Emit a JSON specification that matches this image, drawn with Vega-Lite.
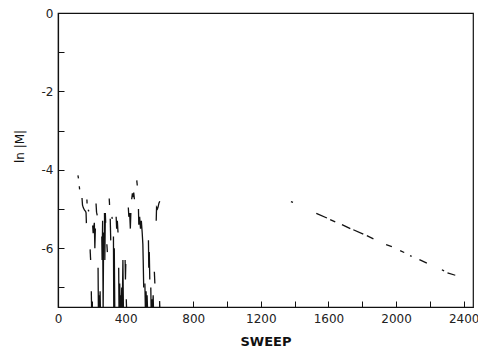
{
  "$schema": "https://vega.github.io/schema/vega-lite/v6.json",
  "width": 415,
  "height": 294,
  "autosize": "none",
  "padding": {"left": 58, "top": 13, "right": 5, "bottom": 48},
  "background": "white",
  "config": {
    "view": {"stroke": "#111", "strokeWidth": 1.2},
    "font": "DejaVu Sans",
    "axis": {
      "grid": false,
      "domainColor": "#111",
      "domainWidth": 1.2,
      "tickColor": "#111",
      "tickWidth": 1,
      "tickSize": -6,
      "labelColor": "#222",
      "labelFont": "DejaVu Sans",
      "labelFontSize": 12,
      "labelFlush": false,
      "titleColor": "#111",
      "titleFont": "DejaVu Sans"
    }
  },
  "data": {
    "values": [
      {"sweep": 0, "lnM": -0.15, "seg": 0}, {"sweep": 2, "lnM": -0.8, "seg": 0},
      {"sweep": 118, "lnM": -4.14, "seg": 1}, {"sweep": 121, "lnM": -4.22, "seg": 1},
      {"sweep": 126, "lnM": -4.42, "seg": 2}, {"sweep": 128, "lnM": -4.5, "seg": 2},
      {"sweep": 142, "lnM": -4.72, "seg": 3}, {"sweep": 145, "lnM": -4.9, "seg": 3}, {"sweep": 150, "lnM": -4.97, "seg": 3}, {"sweep": 157, "lnM": -5.03, "seg": 3}, {"sweep": 163, "lnM": -5.06, "seg": 3}, {"sweep": 166, "lnM": -5.1, "seg": 3}, {"sweep": 168, "lnM": -5.36, "seg": 3},
      {"sweep": 171, "lnM": -4.76, "seg": 4}, {"sweep": 172, "lnM": -4.86, "seg": 4},
      {"sweep": 178, "lnM": -5.02, "seg": 5}, {"sweep": 183, "lnM": -5.06, "seg": 5},
      {"sweep": 190, "lnM": -6.03, "seg": 6}, {"sweep": 193, "lnM": -6.3, "seg": 6},
      {"sweep": 197, "lnM": -7.1, "seg": 7}, {"sweep": 199, "lnM": -7.6, "seg": 7},
      {"sweep": 205, "lnM": -5.42, "seg": 8}, {"sweep": 208, "lnM": -5.62, "seg": 8}, {"sweep": 212, "lnM": -5.45, "seg": 8}, {"sweep": 215, "lnM": -5.35, "seg": 8}, {"sweep": 218, "lnM": -6.0, "seg": 8}, {"sweep": 221, "lnM": -5.5, "seg": 8},
      {"sweep": 225, "lnM": -4.86, "seg": 9}, {"sweep": 228, "lnM": -5.08, "seg": 9}, {"sweep": 232, "lnM": -5.16, "seg": 9},
      {"sweep": 237, "lnM": -6.5, "seg": 10}, {"sweep": 239, "lnM": -7.6, "seg": 10}, {"sweep": 243, "lnM": -7.2, "seg": 10}, {"sweep": 246, "lnM": -7.6, "seg": 10}, {"sweep": 249, "lnM": -7.1, "seg": 10}, {"sweep": 251, "lnM": -7.6, "seg": 10},
      {"sweep": 259, "lnM": -5.7, "seg": 11}, {"sweep": 261, "lnM": -6.3, "seg": 11}, {"sweep": 264, "lnM": -5.3, "seg": 11}, {"sweep": 267, "lnM": -7.6, "seg": 11}, {"sweep": 270, "lnM": -5.6, "seg": 11},
      {"sweep": 275, "lnM": -5.1, "seg": 12}, {"sweep": 277, "lnM": -6.3, "seg": 12}, {"sweep": 280, "lnM": -5.1, "seg": 12}, {"sweep": 282, "lnM": -5.35, "seg": 12},
      {"sweep": 289, "lnM": -5.9, "seg": 13}, {"sweep": 292, "lnM": -6.1, "seg": 13},
      {"sweep": 303, "lnM": -4.73, "seg": 14}, {"sweep": 305, "lnM": -4.9, "seg": 14},
      {"sweep": 309, "lnM": -5.25, "seg": 15}, {"sweep": 312, "lnM": -5.8, "seg": 15},
      {"sweep": 319, "lnM": -5.2, "seg": 16}, {"sweep": 321, "lnM": -5.25, "seg": 16},
      {"sweep": 328, "lnM": -5.7, "seg": 17}, {"sweep": 330, "lnM": -7.6, "seg": 17}, {"sweep": 333, "lnM": -6.0, "seg": 17}, {"sweep": 336, "lnM": -7.6, "seg": 17},
      {"sweep": 344, "lnM": -5.2, "seg": 18}, {"sweep": 347, "lnM": -5.5, "seg": 18}, {"sweep": 351, "lnM": -5.3, "seg": 18}, {"sweep": 355, "lnM": -5.6, "seg": 18},
      {"sweep": 359, "lnM": -6.5, "seg": 19}, {"sweep": 361, "lnM": -7.6, "seg": 19}, {"sweep": 365, "lnM": -6.9, "seg": 19}, {"sweep": 368, "lnM": -7.6, "seg": 19}, {"sweep": 371, "lnM": -7.2, "seg": 19}, {"sweep": 374, "lnM": -7.6, "seg": 19}, {"sweep": 377, "lnM": -7.0, "seg": 19}, {"sweep": 380, "lnM": -7.6, "seg": 19}, {"sweep": 384, "lnM": -6.3, "seg": 19}, {"sweep": 387, "lnM": -7.6, "seg": 19},
      {"sweep": 397, "lnM": -6.3, "seg": 20}, {"sweep": 399, "lnM": -6.8, "seg": 20}, {"sweep": 401, "lnM": -6.4, "seg": 20},
      {"sweep": 404, "lnM": -7.3, "seg": 21}, {"sweep": 406, "lnM": -7.6, "seg": 21},
      {"sweep": 416, "lnM": -4.96, "seg": 22}, {"sweep": 419, "lnM": -5.2, "seg": 22}, {"sweep": 424, "lnM": -5.1, "seg": 22}, {"sweep": 428, "lnM": -5.5, "seg": 22}, {"sweep": 431, "lnM": -5.1, "seg": 22},
      {"sweep": 436, "lnM": -4.75, "seg": 23}, {"sweep": 440, "lnM": -4.6, "seg": 23}, {"sweep": 444, "lnM": -4.7, "seg": 23}, {"sweep": 448, "lnM": -4.58, "seg": 23}, {"sweep": 452, "lnM": -4.75, "seg": 23},
      {"sweep": 466, "lnM": -4.27, "seg": 24}, {"sweep": 469, "lnM": -4.4, "seg": 24},
      {"sweep": 476, "lnM": -5.0, "seg": 25}, {"sweep": 478, "lnM": -5.4, "seg": 25}, {"sweep": 483, "lnM": -5.2, "seg": 25}, {"sweep": 488, "lnM": -5.5, "seg": 25}, {"sweep": 493, "lnM": -5.3, "seg": 25}, {"sweep": 498, "lnM": -5.6, "seg": 25}, {"sweep": 502, "lnM": -5.9, "seg": 25}, {"sweep": 504, "lnM": -6.3, "seg": 25}, {"sweep": 507, "lnM": -7.0, "seg": 25},
      {"sweep": 514, "lnM": -6.9, "seg": 26}, {"sweep": 517, "lnM": -7.6, "seg": 26}, {"sweep": 521, "lnM": -7.1, "seg": 26}, {"sweep": 524, "lnM": -7.6, "seg": 26}, {"sweep": 527, "lnM": -7.2, "seg": 26}, {"sweep": 530, "lnM": -7.6, "seg": 26},
      {"sweep": 535, "lnM": -5.8, "seg": 27}, {"sweep": 537, "lnM": -6.5, "seg": 27}, {"sweep": 540, "lnM": -6.1, "seg": 27}, {"sweep": 543, "lnM": -6.8, "seg": 27},
      {"sweep": 549, "lnM": -7.0, "seg": 28}, {"sweep": 551, "lnM": -7.6, "seg": 28}, {"sweep": 556, "lnM": -7.3, "seg": 28}, {"sweep": 559, "lnM": -7.6, "seg": 28}, {"sweep": 563, "lnM": -7.2, "seg": 28}, {"sweep": 565, "lnM": -7.6, "seg": 28},
      {"sweep": 570, "lnM": -6.6, "seg": 29}, {"sweep": 573, "lnM": -6.9, "seg": 29},
      {"sweep": 581, "lnM": -5.3, "seg": 30}, {"sweep": 583, "lnM": -4.96, "seg": 30}, {"sweep": 588, "lnM": -5.0, "seg": 30}, {"sweep": 592, "lnM": -4.95, "seg": 30}, {"sweep": 597, "lnM": -4.85, "seg": 30}, {"sweep": 602, "lnM": -4.8, "seg": 30},
      {"sweep": 601, "lnM": -7.35, "seg": 31}, {"sweep": 603, "lnM": -7.6, "seg": 31},
      {"sweep": 1378, "lnM": -4.81, "seg": 40}, {"sweep": 1390, "lnM": -4.83, "seg": 40},
      {"sweep": 1528, "lnM": -5.11, "seg": 41}, {"sweep": 1591, "lnM": -5.23, "seg": 41},
      {"sweep": 1610, "lnM": -5.27, "seg": 42}, {"sweep": 1640, "lnM": -5.33, "seg": 42},
      {"sweep": 1680, "lnM": -5.4, "seg": 43}, {"sweep": 1729, "lnM": -5.5, "seg": 43},
      {"sweep": 1747, "lnM": -5.53, "seg": 44}, {"sweep": 1806, "lnM": -5.64, "seg": 44},
      {"sweep": 1827, "lnM": -5.68, "seg": 45}, {"sweep": 1866, "lnM": -5.76, "seg": 45},
      {"sweep": 1941, "lnM": -5.91, "seg": 46}, {"sweep": 1975, "lnM": -5.96, "seg": 46},
      {"sweep": 2024, "lnM": -6.06, "seg": 47}, {"sweep": 2048, "lnM": -6.11, "seg": 47},
      {"sweep": 2083, "lnM": -6.19, "seg": 48}, {"sweep": 2092, "lnM": -6.21, "seg": 48},
      {"sweep": 2138, "lnM": -6.29, "seg": 49}, {"sweep": 2182, "lnM": -6.38, "seg": 49},
      {"sweep": 2271, "lnM": -6.55, "seg": 50}, {"sweep": 2284, "lnM": -6.58, "seg": 50},
      {"sweep": 2304, "lnM": -6.63, "seg": 51}, {"sweep": 2350, "lnM": -6.69, "seg": 51}
    ]
  },
  "mark": {"type": "line", "color": "#111", "strokeWidth": 1.3, "clip": true},
  "encoding": {
    "x": {
      "field": "sweep",
      "type": "quantitative",
      "scale": {"domain": [0, 2455], "nice": false, "zero": false},
      "axis": {
        "values": [0, 200, 400, 600, 800, 1000, 1200, 1400, 1600, 1800, 2000, 2200, 2400],
        "labelExpr": "datum.value % 400 == 0 ? '' + datum.value : ''",
        "labelPadding": 12,
        "title": "SWEEP",
        "titleFontSize": 13,
        "titleFontWeight": "bold",
        "titlePadding": 11
      }
    },
    "y": {
      "field": "lnM",
      "type": "quantitative",
      "scale": {"domain": [-7.5, 0], "nice": false, "zero": false},
      "axis": {
        "values": [-7, -6, -5, -4, -3, -2, -1, 0],
        "labelExpr": "datum.value % 2 == 0 ? '' + datum.value : ''",
        "labelPadding": 11,
        "title": "ln |M|",
        "titleFontSize": 12,
        "titleFontWeight": "normal",
        "titleX": -32,
        "titleY": 133
      }
    },
    "detail": {"field": "seg", "type": "nominal"}
  }
}
